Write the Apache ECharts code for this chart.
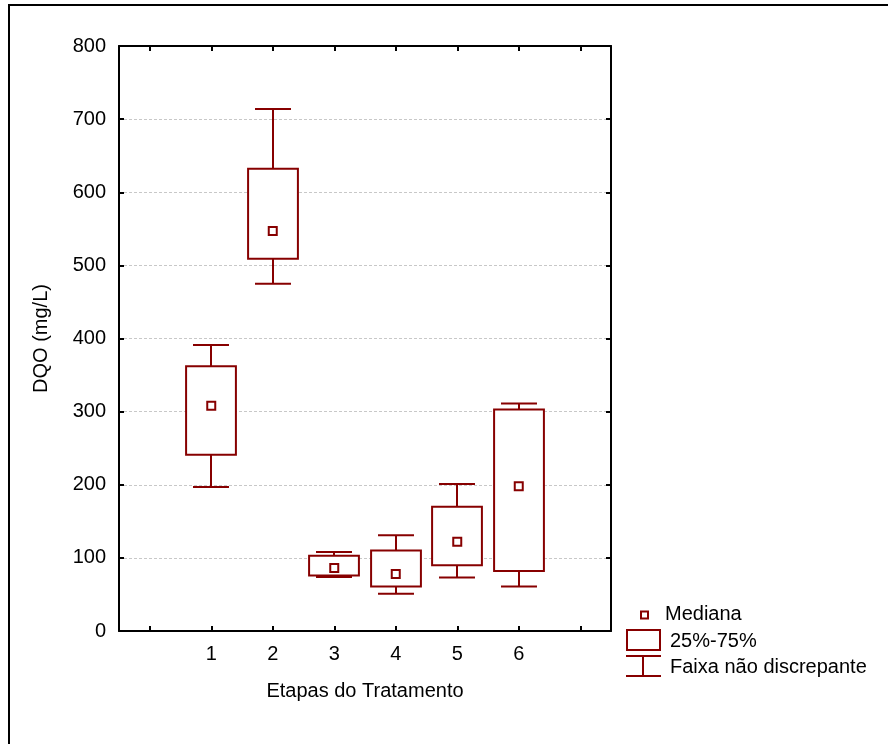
<!DOCTYPE html>
<html>
<head>
<meta charset="utf-8">
<script src="https://cdn.jsdelivr.net/npm/echarts@6/dist/echarts.min.js"></script>
<style>
  html, body { margin: 0; padding: 0; background: #fff; }
  #chart { width: 888px; height: 744px; }
</style>
</head>
<body>
<div id="chart"></div>
<script>
// DQO per treatment stage: non-outlier range, quartiles and median
const stages = ['1', '2', '3', '4', '5', '6'];
const whiskerLow = [197, 475, 74, 51, 73, 61];
const quartile1 = [241, 509, 76, 61, 90, 82];
const median = [308, 547, 86, 78, 122, 198];
const quartile3 = [362, 632, 103, 110, 170, 303];
const whiskerHigh = [391, 714, 108, 131, 201, 311];
const yMin = 0, yMax = 800, yStep = 100;
const legendLabels = ['Mediana', '25%-75%', 'Faixa não discrepante'];
const xTitle = 'Etapas do Tratamento';
const yTitle = 'DQO (mg/L)';

const RED = '#870000';
const INK = '#000';
const FONT = '"Liberation Sans", Arial, sans-serif';
const FS = 20;

// an empty slot on either side of the six stages
const slots = [''].concat(stages, [' ']);
const boxData = stages.map((s, i) => [i + 1, whiskerLow[i], quartile1[i], quartile3[i], whiskerHigh[i]]);
const medianData = stages.map((s, i) => [i + 1, median[i]]);

function renderBox(params, api) {
  const x = api.value(0);
  const band = api.size([1, 0])[0];
  const boxW = band * 0.81;
  const capW = band * 0.585;
  const lo = api.coord([x, api.value(1)]);
  const q1 = api.coord([x, api.value(2)]);
  const q3 = api.coord([x, api.value(3)]);
  const hi = api.coord([x, api.value(4)]);
  const cx = Math.round(lo[0]);
  const seg = (x1, y1, x2, y2) => ({
    type: 'line',
    shape: { x1, y1, x2, y2 },
    style: { stroke: RED, lineWidth: 2 }
  });
  return {
    type: 'group',
    children: [
      seg(cx, q3[1], cx, hi[1]),
      seg(cx - capW / 2, hi[1], cx + capW / 2, hi[1]),
      seg(cx, q1[1], cx, lo[1]),
      seg(cx - capW / 2, lo[1], cx + capW / 2, lo[1]),
      {
        type: 'rect',
        shape: { x: cx - boxW / 2, y: q3[1], width: boxW, height: q1[1] - q3[1] },
        style: { fill: '#fff', stroke: RED, lineWidth: 2 }
      }
    ]
  };
}

function axisLine() {
  return { show: true, onZero: false, lineStyle: { color: INK, width: 2 } };
}
function innerTick(extra) {
  return Object.assign({ show: true, inside: true, length: 5, lineStyle: { color: INK, width: 2 } }, extra || {});
}
function labelText(extra) {
  return Object.assign({ color: INK, fontSize: FS, fontFamily: FONT }, extra || {});
}

const chart = echarts.init(document.getElementById('chart'), null, { renderer: 'canvas' });

chart.setOption({
  backgroundColor: '#fff',
  animation: false,
  grid: { left: 119, right: 277, top: 46, bottom: 113 },
  xAxis: [
    {
      type: 'category',
      data: slots,
      position: 'bottom',
      boundaryGap: true,
      axisLine: axisLine(),
      axisTick: innerTick({ alignWithLabel: true, interval: 0 }),
      axisLabel: labelText({ interval: 0, margin: 13 }),
      splitLine: { show: false },
      name: xTitle,
      nameLocation: 'middle',
      nameGap: 50,
      nameTextStyle: labelText()
    },
    {
      type: 'category',
      data: slots,
      position: 'top',
      boundaryGap: true,
      axisLine: axisLine(),
      axisTick: innerTick({ alignWithLabel: true, interval: 0 }),
      axisLabel: { show: false },
      splitLine: { show: false }
    }
  ],
  yAxis: [
    {
      type: 'value',
      min: yMin,
      max: yMax,
      interval: yStep,
      position: 'left',
      axisLine: axisLine(),
      axisTick: innerTick(),
      axisLabel: labelText({ margin: 13 }),
      splitLine: { show: true, lineStyle: { color: '#c8c8c8', width: 1, type: [3, 2] } },
      name: yTitle,
      nameLocation: 'middle',
      nameRotate: 90,
      nameGap: 68,
      nameTextStyle: labelText()
    },
    {
      type: 'value',
      min: yMin,
      max: yMax,
      interval: yStep,
      position: 'right',
      axisLine: axisLine(),
      axisTick: innerTick(),
      axisLabel: { show: false },
      splitLine: { show: false }
    }
  ],
  series: [
    {
      name: legendLabels[1],
      type: 'custom',
      xAxisIndex: 0,
      yAxisIndex: 0,
      renderItem: renderBox,
      encode: { x: 0, y: [1, 2, 3, 4] },
      data: boxData,
      z: 3
    },
    {
      name: legendLabels[0],
      type: 'scatter',
      xAxisIndex: 0,
      yAxisIndex: 0,
      symbol: 'rect',
      symbolSize: 8,
      itemStyle: { color: '#fff', borderColor: RED, borderWidth: 2, opacity: 1 },
      data: medianData,
      z: 4
    }
  ],
  graphic: [
    // outer frame (left and top edges visible)
    {
      type: 'polyline',
      shape: { points: [[9, 760], [9, 5], [900, 5]] },
      style: { stroke: INK, lineWidth: 2, fill: null },
      silent: true
    },
    // key
    {
      type: 'rect',
      shape: { x: 641, y: 611.5, width: 7, height: 7 },
      style: { fill: '#fff', stroke: RED, lineWidth: 2 }
    },
    {
      type: 'text',
      x: 665, y: 614,
      style: { text: legendLabels[0], fill: INK, font: FS + 'px ' + FONT, verticalAlign: 'middle' }
    },
    {
      type: 'rect',
      shape: { x: 627, y: 630, width: 33, height: 20 },
      style: { fill: '#fff', stroke: RED, lineWidth: 2 }
    },
    {
      type: 'text',
      x: 670, y: 641,
      style: { text: legendLabels[1], fill: INK, font: FS + 'px ' + FONT, verticalAlign: 'middle' }
    },
    {
      type: 'line',
      shape: { x1: 626, y1: 656, x2: 661, y2: 656 },
      style: { stroke: RED, lineWidth: 2 }
    },
    {
      type: 'line',
      shape: { x1: 643, y1: 656, x2: 643, y2: 676 },
      style: { stroke: RED, lineWidth: 2 }
    },
    {
      type: 'line',
      shape: { x1: 626, y1: 676, x2: 661, y2: 676 },
      style: { stroke: RED, lineWidth: 2 }
    },
    {
      type: 'text',
      x: 670, y: 667,
      style: { text: legendLabels[2], fill: INK, font: FS + 'px ' + FONT, verticalAlign: 'middle' }
    }
  ]
});
</script>
</body>
</html>
